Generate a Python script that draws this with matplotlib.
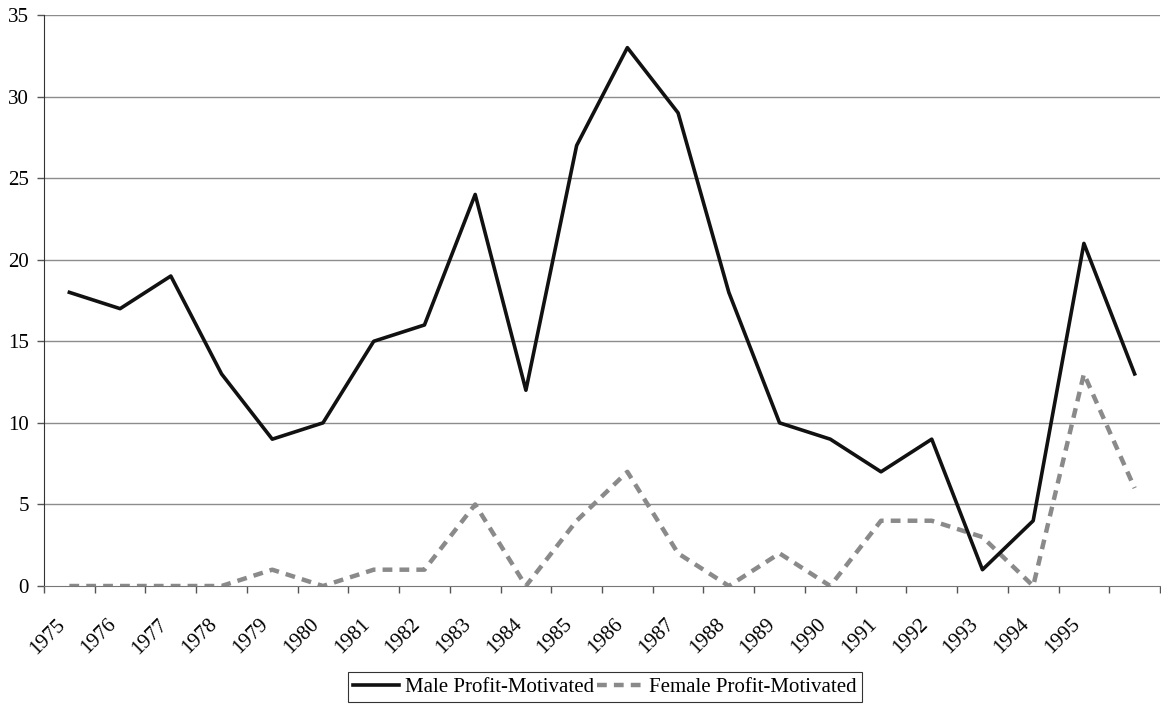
import numpy as np
import matplotlib.pyplot as plt
from matplotlib.transforms import ScaledTranslation

plt.rcParams['font.family'] = ['Liberation Serif', 'DejaVu Serif']

# Year labels (last category has no label)
years = ['1975', '1976', '1977', '1978', '1979', '1980', '1981', '1982', '1983', '1984',
         '1985', '1986', '1987', '1988', '1989', '1990', '1991', '1992', '1993', '1994',
         '1995', '']

male = [18, 17, 19, 13, 9, 10, 15, 16, 24, 12, 27, 33, 29, 18, 10, 9, 7, 9, 1, 4, 21, 13]
female = [0, 0, 0, 0, 1, 0, 1, 1, 5, 0, 4, 7, 2, 0, 2, 0, 4, 4, 3, 0, 13, 6]

x = np.arange(len(male))

fig = plt.figure(figsize=(11.61, 7.06), dpi=100)
ax = fig.add_axes([44/1161, 1 - 586/706, (1160 - 44)/1161, (586 - 15)/706])

# Grid lines
for v in range(5, 40, 5):
    ax.axhline(v, color='#8c8c8c', lw=1, zorder=0)

ax.plot(x, female, color='#8a8a8a', lw=3.2, linestyle=(0, (2.2, 1.6)),
        label='Female Profit-Motivated', zorder=2)
ax.plot(x, male, color='#111111', lw=2.6, label='Male Profit-Motivated', zorder=3)

ax.set_xlim(-0.5, len(male) - 0.5)
ax.set_ylim(0, 35)
ax.set_yticks(range(0, 40, 5))

# Category boundaries get the tick marks, labels sit at category centres
ax.set_xticks(np.arange(-0.5, len(male), 1), minor=False)
ax.set_xticklabels([])
ax.set_xticks(x, minor=True)
ax.set_xticklabels(years, minor=True, rotation=45, ha='right', va='top', fontsize=15)
shift = ScaledTranslation(-8/100, 0, fig.dpi_scale_trans)
for lbl in ax.get_xticklabels(minor=True):
    lbl.set_transform(lbl.get_transform() + shift)
ax.tick_params(axis='x', which='minor', length=0, pad=21)
ax.tick_params(axis='x', which='major', length=5, width=1, color='#555555', direction='out')
ax.tick_params(axis='y', length=5, width=1, color='#555555', labelsize=15, pad=6)

for s in ['top', 'right']:
    ax.spines[s].set_visible(False)
ax.spines['left'].set_color('#333333')
ax.spines['bottom'].set_color('#777777')

handles, labels = ax.get_legend_handles_labels()
leg = fig.legend(handles[::-1], labels[::-1], loc='center', ncol=2,
                 bbox_to_anchor=(605/1161, 1 - 687/706), fontsize=15,
                 frameon=True, fancybox=False, edgecolor='black', handlelength=2.2,
                 handletextpad=0.3, columnspacing=0.15, borderpad=0.25)
leg.get_frame().set_linewidth(0.8)

fig.savefig('out.png', dpi=100)
